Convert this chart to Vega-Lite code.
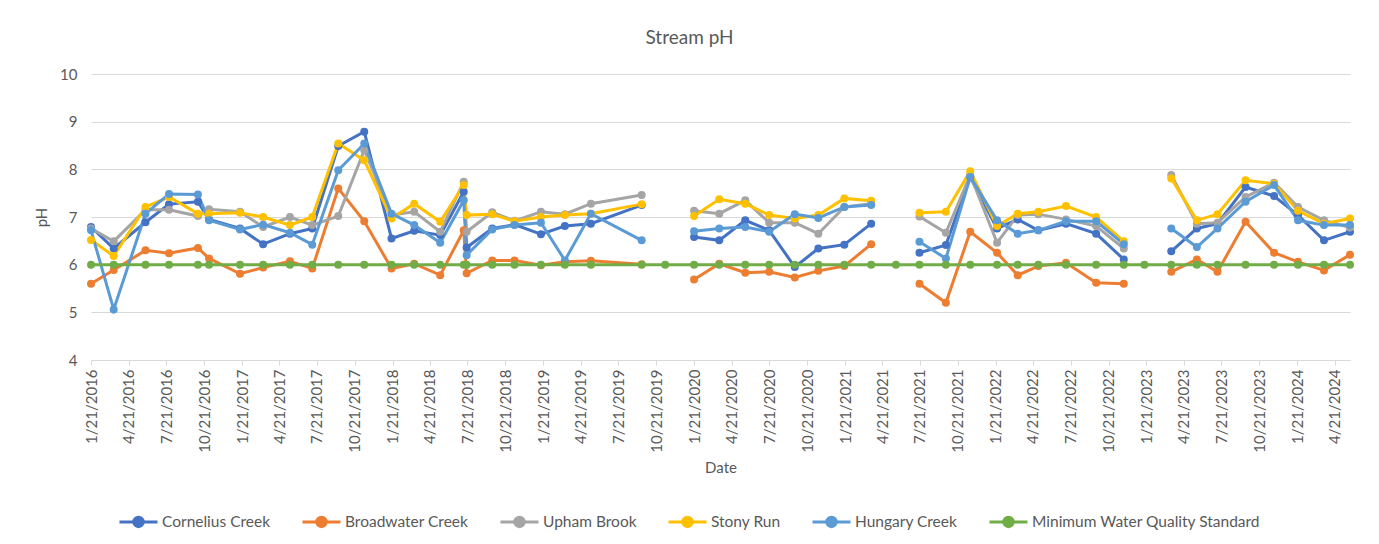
{
 "$schema": "https://vega.github.io/schema/vega-lite/v6.json",
 "autosize": {"type": "none"},
 "width": 1259,
 "height": 286,
 "padding": {"left": 91, "top": 74, "right": 29, "bottom": 184},
 "background": "white",
 "config": {"font": "Lato", "view": {"stroke": null}},
 "title": {"text": "Stream pH", "fontSize": 19, "fontWeight": "normal", "color": "#595959", "anchor": "middle", "frame": "group", "dx": -31, "offset": 0, "baseline": "bottom"},
 "data": {"values": [
  {"date": "2016-01-21", "Cornelius Creek": 6.79, "Broadwater Creek": 5.60, "Upham Brook": 6.76, "Stony Run": 6.52, "Hungary Creek": 6.72, "Minimum Water Quality Standard": 6},
  {"date": "2016-03-16", "Cornelius Creek": 6.34, "Broadwater Creek": 5.89, "Upham Brook": 6.49, "Stony Run": 6.18, "Hungary Creek": 5.06, "Minimum Water Quality Standard": 6},
  {"date": "2016-06-01", "Cornelius Creek": 6.89, "Broadwater Creek": 6.30, "Upham Brook": 7.15, "Stony Run": 7.21, "Hungary Creek": 7.07, "Minimum Water Quality Standard": 6},
  {"date": "2016-07-28", "Cornelius Creek": 7.27, "Broadwater Creek": 6.24, "Upham Brook": 7.15, "Stony Run": 7.42, "Hungary Creek": 7.48, "Minimum Water Quality Standard": 6},
  {"date": "2016-10-06", "Cornelius Creek": 7.32, "Broadwater Creek": 6.35, "Upham Brook": 7.02, "Stony Run": 7.07, "Hungary Creek": 7.47, "Minimum Water Quality Standard": 6},
  {"date": "2016-11-02", "Cornelius Creek": 6.95, "Broadwater Creek": 6.13, "Upham Brook": 7.16, "Stony Run": 7.07, "Hungary Creek": 6.93, "Minimum Water Quality Standard": 6},
  {"date": "2017-01-16", "Cornelius Creek": 6.76, "Broadwater Creek": 5.81, "Upham Brook": 7.11, "Stony Run": 7.09, "Hungary Creek": 6.74, "Minimum Water Quality Standard": 6},
  {"date": "2017-03-13", "Cornelius Creek": 6.43, "Broadwater Creek": 5.94, "Upham Brook": 6.79, "Stony Run": 7.00, "Hungary Creek": 6.84, "Minimum Water Quality Standard": 6},
  {"date": "2017-05-17", "Cornelius Creek": 6.65, "Broadwater Creek": 6.07, "Upham Brook": 7.00, "Stony Run": 6.83, "Hungary Creek": 6.67, "Minimum Water Quality Standard": 6},
  {"date": "2017-07-10", "Cornelius Creek": 6.76, "Broadwater Creek": 5.92, "Upham Brook": 6.83, "Stony Run": 7.00, "Hungary Creek": 6.42, "Minimum Water Quality Standard": 6},
  {"date": "2017-09-11", "Cornelius Creek": 8.49, "Broadwater Creek": 7.60, "Upham Brook": 7.02, "Stony Run": 8.54, "Hungary Creek": 7.98, "Minimum Water Quality Standard": 6},
  {"date": "2017-11-13", "Cornelius Creek": 8.79, "Broadwater Creek": 6.91, "Upham Brook": 8.40, "Stony Run": 8.19, "Hungary Creek": 8.54, "Minimum Water Quality Standard": 6},
  {"date": "2018-01-18", "Cornelius Creek": 6.55, "Broadwater Creek": 5.92, "Upham Brook": 7.04, "Stony Run": 6.97, "Hungary Creek": 7.07, "Minimum Water Quality Standard": 6},
  {"date": "2018-03-14", "Cornelius Creek": 6.71, "Broadwater Creek": 6.02, "Upham Brook": 7.11, "Stony Run": 7.28, "Hungary Creek": 6.83, "Minimum Water Quality Standard": 6},
  {"date": "2018-05-16", "Cornelius Creek": 6.62, "Broadwater Creek": 5.78, "Upham Brook": 6.69, "Stony Run": 6.90, "Hungary Creek": 6.46, "Minimum Water Quality Standard": 6},
  {"date": "2018-07-12", "Cornelius Creek": 7.53, "Broadwater Creek": 6.72, "Upham Brook": 7.74, "Stony Run": 7.67, "Hungary Creek": 7.35, "Minimum Water Quality Standard": 6},
  {"date": "2018-07-19", "Cornelius Creek": 6.36, "Broadwater Creek": 5.82, "Upham Brook": 6.69, "Stony Run": 7.04, "Hungary Creek": 6.20, "Minimum Water Quality Standard": 6},
  {"date": "2018-09-19", "Cornelius Creek": 6.76, "Broadwater Creek": 6.09, "Upham Brook": 7.10, "Stony Run": 7.06, "Hungary Creek": 6.74, "Minimum Water Quality Standard": 6},
  {"date": "2018-11-12", "Cornelius Creek": 6.84, "Broadwater Creek": 6.09, "Upham Brook": 6.92, "Stony Run": 6.91, "Hungary Creek": 6.83, "Minimum Water Quality Standard": 6},
  {"date": "2019-01-15", "Cornelius Creek": 6.64, "Broadwater Creek": 5.99, "Upham Brook": 7.11, "Stony Run": 7.00, "Hungary Creek": 6.88, "Minimum Water Quality Standard": 6},
  {"date": "2019-03-14", "Cornelius Creek": 6.81, "Broadwater Creek": 6.06, "Upham Brook": 7.06, "Stony Run": 7.04, "Hungary Creek": 6.09, "Minimum Water Quality Standard": 6},
  {"date": "2019-05-16", "Cornelius Creek": 6.86, "Broadwater Creek": 6.08, "Upham Brook": 7.28, "Stony Run": 7.07, "Hungary Creek": 7.07, "Minimum Water Quality Standard": 6},
  {"date": "2019-09-16", "Cornelius Creek": 7.25, "Broadwater Creek": 6.01, "Upham Brook": 7.46, "Stony Run": 7.27, "Hungary Creek": 6.51, "Minimum Water Quality Standard": 6},
  {"date": "2019-11-12", "Cornelius Creek": null, "Broadwater Creek": null, "Upham Brook": null, "Stony Run": null, "Hungary Creek": null, "Minimum Water Quality Standard": 6},
  {"date": "2020-01-21", "Cornelius Creek": 6.58, "Broadwater Creek": 5.69, "Upham Brook": 7.13, "Stony Run": 7.02, "Hungary Creek": 6.70, "Minimum Water Quality Standard": 6},
  {"date": "2020-03-22", "Cornelius Creek": 6.51, "Broadwater Creek": 6.02, "Upham Brook": 7.07, "Stony Run": 7.37, "Hungary Creek": 6.76, "Minimum Water Quality Standard": 6},
  {"date": "2020-05-24", "Cornelius Creek": 6.93, "Broadwater Creek": 5.83, "Upham Brook": 7.35, "Stony Run": 7.28, "Hungary Creek": 6.79, "Minimum Water Quality Standard": 6},
  {"date": "2020-07-21", "Cornelius Creek": 6.72, "Broadwater Creek": 5.85, "Upham Brook": 6.88, "Stony Run": 7.04, "Hungary Creek": 6.69, "Minimum Water Quality Standard": 6},
  {"date": "2020-09-21", "Cornelius Creek": 5.95, "Broadwater Creek": 5.73, "Upham Brook": 6.88, "Stony Run": 6.97, "Hungary Creek": 7.06, "Minimum Water Quality Standard": 6},
  {"date": "2020-11-17", "Cornelius Creek": 6.34, "Broadwater Creek": 5.87, "Upham Brook": 6.65, "Stony Run": 7.04, "Hungary Creek": 6.98, "Minimum Water Quality Standard": 6},
  {"date": "2021-01-19", "Cornelius Creek": 6.42, "Broadwater Creek": 5.97, "Upham Brook": 7.21, "Stony Run": 7.39, "Hungary Creek": 7.21, "Minimum Water Quality Standard": 6},
  {"date": "2021-03-25", "Cornelius Creek": 6.86, "Broadwater Creek": 6.43, "Upham Brook": 7.28, "Stony Run": 7.34, "Hungary Creek": 7.25, "Minimum Water Quality Standard": 6},
  {"date": "2021-05-24", "Cornelius Creek": null, "Broadwater Creek": null, "Upham Brook": null, "Stony Run": null, "Hungary Creek": null, "Minimum Water Quality Standard": 6},
  {"date": "2021-07-20", "Cornelius Creek": 6.25, "Broadwater Creek": 5.60, "Upham Brook": 7.01, "Stony Run": 7.09, "Hungary Creek": 6.48, "Minimum Water Quality Standard": 6},
  {"date": "2021-09-22", "Cornelius Creek": 6.41, "Broadwater Creek": 5.20, "Upham Brook": 6.67, "Stony Run": 7.11, "Hungary Creek": 6.13, "Minimum Water Quality Standard": 6},
  {"date": "2021-11-20", "Cornelius Creek": 7.84, "Broadwater Creek": 6.69, "Upham Brook": 7.88, "Stony Run": 7.96, "Hungary Creek": 7.84, "Minimum Water Quality Standard": 6},
  {"date": "2022-01-24", "Cornelius Creek": 6.76, "Broadwater Creek": 6.25, "Upham Brook": 6.46, "Stony Run": 6.81, "Hungary Creek": 6.93, "Minimum Water Quality Standard": 6},
  {"date": "2022-03-15", "Cornelius Creek": 6.95, "Broadwater Creek": 5.78, "Upham Brook": 7.04, "Stony Run": 7.07, "Hungary Creek": 6.65, "Minimum Water Quality Standard": 6},
  {"date": "2022-05-04", "Cornelius Creek": 6.72, "Broadwater Creek": 5.97, "Upham Brook": 7.06, "Stony Run": 7.11, "Hungary Creek": 6.72, "Minimum Water Quality Standard": 6},
  {"date": "2022-07-10", "Cornelius Creek": 6.86, "Broadwater Creek": 6.04, "Upham Brook": 6.95, "Stony Run": 7.23, "Hungary Creek": 6.91, "Minimum Water Quality Standard": 6},
  {"date": "2022-09-21", "Cornelius Creek": 6.65, "Broadwater Creek": 5.62, "Upham Brook": 6.81, "Stony Run": 7.00, "Hungary Creek": 6.91, "Minimum Water Quality Standard": 6},
  {"date": "2022-11-27", "Cornelius Creek": 6.11, "Broadwater Creek": 5.60, "Upham Brook": 6.34, "Stony Run": 6.49, "Hungary Creek": 6.43, "Minimum Water Quality Standard": 6},
  {"date": "2023-01-16", "Cornelius Creek": null, "Broadwater Creek": null, "Upham Brook": null, "Stony Run": null, "Hungary Creek": null, "Minimum Water Quality Standard": 6},
  {"date": "2023-03-22", "Cornelius Creek": 6.28, "Broadwater Creek": 5.85, "Upham Brook": 7.88, "Stony Run": 7.81, "Hungary Creek": 6.76, "Minimum Water Quality Standard": 6},
  {"date": "2023-05-23", "Cornelius Creek": 6.76, "Broadwater Creek": 6.11, "Upham Brook": 6.86, "Stony Run": 6.93, "Hungary Creek": 6.37, "Minimum Water Quality Standard": 6},
  {"date": "2023-07-12", "Cornelius Creek": 6.86, "Broadwater Creek": 5.85, "Upham Brook": 6.88, "Stony Run": 7.06, "Hungary Creek": 6.76, "Minimum Water Quality Standard": 6},
  {"date": "2023-09-18", "Cornelius Creek": 7.63, "Broadwater Creek": 6.90, "Upham Brook": 7.42, "Stony Run": 7.77, "Hungary Creek": 7.32, "Minimum Water Quality Standard": 6},
  {"date": "2023-11-26", "Cornelius Creek": 7.44, "Broadwater Creek": 6.25, "Upham Brook": 7.72, "Stony Run": 7.70, "Hungary Creek": 7.67, "Minimum Water Quality Standard": 6},
  {"date": "2024-01-23", "Cornelius Creek": 7.04, "Broadwater Creek": 6.06, "Upham Brook": 7.21, "Stony Run": 7.13, "Hungary Creek": 6.93, "Minimum Water Quality Standard": 6},
  {"date": "2024-03-26", "Cornelius Creek": 6.51, "Broadwater Creek": 5.88, "Upham Brook": 6.93, "Stony Run": 6.86, "Hungary Creek": 6.83, "Minimum Water Quality Standard": 6},
  {"date": "2024-05-28", "Cornelius Creek": 6.69, "Broadwater Creek": 6.21, "Upham Brook": 6.78, "Stony Run": 6.97, "Hungary Creek": 6.83, "Minimum Water Quality Standard": 6}
 ]},
 "transform": [
  {"fold": ["Cornelius Creek", "Broadwater Creek", "Upham Brook", "Stony Run", "Hungary Creek", "Minimum Water Quality Standard"], "as": ["series", "pH"]}
 ],
 "encoding": {
  "x": {
   "field": "date", "type": "temporal",
   "scale": {"type": "utc", "nice": false, "domain": [{"year": 2016, "month": 1, "date": 21, "utc": true}, {"year": 2024, "month": 5, "date": 28, "utc": true}]},
   "axis": {
    "title": "Date", "titleFontSize": 15, "titleFontWeight": "normal", "titleColor": "#595959", "titlePadding": 8,
    "labelExpr": "utcFormat(datum.value, '%-m/%-d/%Y')",
    "labelAngle": 270, "labelFontSize": 15, "labelColor": "#595959", "labelPadding": 4, "labelOverlap": false, "labelFlush": false,
    "domainColor": "#d9d9d9", "tickColor": "#d9d9d9", "tickSize": 5, "grid": false,
    "values": [
     {"year": 2016, "month": 1, "date": 21, "utc": true}, {"year": 2016, "month": 4, "date": 21, "utc": true}, {"year": 2016, "month": 7, "date": 21, "utc": true}, {"year": 2016, "month": 10, "date": 21, "utc": true},
     {"year": 2017, "month": 1, "date": 21, "utc": true}, {"year": 2017, "month": 4, "date": 21, "utc": true}, {"year": 2017, "month": 7, "date": 21, "utc": true}, {"year": 2017, "month": 10, "date": 21, "utc": true},
     {"year": 2018, "month": 1, "date": 21, "utc": true}, {"year": 2018, "month": 4, "date": 21, "utc": true}, {"year": 2018, "month": 7, "date": 21, "utc": true}, {"year": 2018, "month": 10, "date": 21, "utc": true},
     {"year": 2019, "month": 1, "date": 21, "utc": true}, {"year": 2019, "month": 4, "date": 21, "utc": true}, {"year": 2019, "month": 7, "date": 21, "utc": true}, {"year": 2019, "month": 10, "date": 21, "utc": true},
     {"year": 2020, "month": 1, "date": 21, "utc": true}, {"year": 2020, "month": 4, "date": 21, "utc": true}, {"year": 2020, "month": 7, "date": 21, "utc": true}, {"year": 2020, "month": 10, "date": 21, "utc": true},
     {"year": 2021, "month": 1, "date": 21, "utc": true}, {"year": 2021, "month": 4, "date": 21, "utc": true}, {"year": 2021, "month": 7, "date": 21, "utc": true}, {"year": 2021, "month": 10, "date": 21, "utc": true},
     {"year": 2022, "month": 1, "date": 21, "utc": true}, {"year": 2022, "month": 4, "date": 21, "utc": true}, {"year": 2022, "month": 7, "date": 21, "utc": true}, {"year": 2022, "month": 10, "date": 21, "utc": true},
     {"year": 2023, "month": 1, "date": 21, "utc": true}, {"year": 2023, "month": 4, "date": 21, "utc": true}, {"year": 2023, "month": 7, "date": 21, "utc": true}, {"year": 2023, "month": 10, "date": 21, "utc": true},
     {"year": 2024, "month": 1, "date": 21, "utc": true}, {"year": 2024, "month": 4, "date": 21, "utc": true}
    ]
   }
  },
  "y": {
   "field": "pH", "type": "quantitative",
   "scale": {"domain": [4, 10], "nice": false, "zero": false},
   "axis": {
    "title": "pH", "titleFontSize": 15, "titleFontWeight": "normal", "titleColor": "#595959", "titlePadding": 10,
    "values": [4, 5, 6, 7, 8, 9, 10], "labelFontSize": 15, "labelColor": "#595959", "labelPadding": 14,
    "ticks": false, "tickSize": 0, "domain": false, "grid": true, "gridColor": "#d9d9d9", "gridWidth": 1
   }
  },
  "color": {
   "field": "series", "type": "nominal",
   "scale": {
    "domain": ["Cornelius Creek", "Broadwater Creek", "Upham Brook", "Stony Run", "Hungary Creek", "Minimum Water Quality Standard"],
    "range": ["#4472C4", "#ED7D31", "#A5A5A5", "#FFC000", "#5B9BD5", "#70AD47"]
   },
   "legend": {
    "title": null, "orient": "none", "legendX": 27, "legendY": 427, "direction": "horizontal", "padding": 0,
    "symbolType": "M-1,0L1,0M-0.25,0A0.25,0.25,0,1,1,0.25,0A0.25,0.25,0,1,1,-0.25,0Z",
    "symbolSize": 1444, "symbolStrokeWidth": 3, "labelFontSize": 15.5, "labelColor": "#595959", "labelOffset": 3, "columnPadding": 25, "labelLimit": 400,
    "encode": {"symbols": {"update": {"fill": {"scale": "color", "field": "value"}, "stroke": {"scale": "color", "field": "value"}, "opacity": {"value": 1}}}}
   }
  }
 },
 "layer": [
  {"mark": {"type": "line", "strokeWidth": 3}},
  {"mark": {"type": "point", "filled": true, "size": 64, "opacity": 1}}
 ]
}
